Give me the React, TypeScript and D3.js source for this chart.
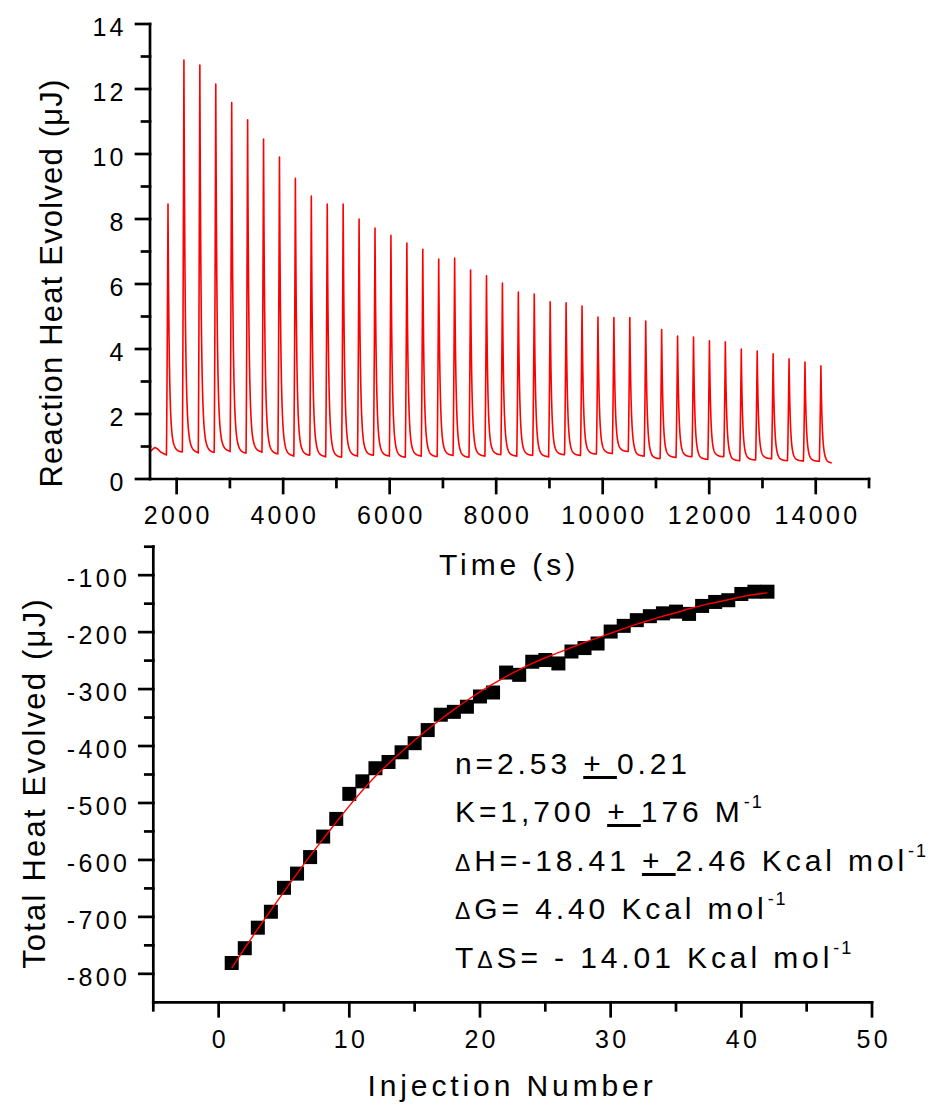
import React from 'react';
import * as d3 from 'd3';

// ---------- DATA ----------
// Raw thermogram (top panel)
const injectionTimes = [
  1838, 2137, 2436, 2735, 3034, 3333, 3632, 3931, 4230, 4529, 4828, 5127, 5426, 5725,
  6024, 6323, 6622, 6921, 7220, 7519, 7818, 8117, 8416, 8715, 9014, 9313, 9612, 9911,
  10210, 10509, 10808, 11107, 11406, 11705, 12004, 12303, 12602, 12901, 13200, 13499,
  13798, 14097,
];
const peakHeights = [
  8.46, 12.89, 12.74, 12.15, 11.58, 11.05, 10.46, 9.91, 9.25, 8.71, 8.46, 8.46, 8.0, 7.72,
  7.5, 7.26, 7.07, 6.77, 6.8, 6.43, 6.25, 6.03, 5.75, 5.69, 5.45, 5.42, 5.32, 4.98,
  4.97, 4.97, 4.86, 4.6, 4.4, 4.37, 4.25, 4.22, 4.0, 3.94, 3.85, 3.7, 3.6, 3.48,
];
const baselineAfter = [
  0.82, 0.8, 0.8, 0.84, 0.78, 0.82, 0.76, 0.7, 0.72, 0.68, 0.66, 0.7, 0.72, 0.7,
  0.66, 0.7, 0.68, 0.72, 0.66, 0.7, 0.74, 0.7, 0.72, 0.68, 0.74, 0.72, 0.76, 0.78,
  0.84, 0.7, 0.62, 0.66, 0.68, 0.6, 0.68, 0.56, 0.58, 0.62, 0.56, 0.55, 0.54, 0.48,
];
const preBaseline: [number, number][] = [
  [1500, 0.84], [1540, 0.9], [1590, 0.97], [1640, 0.93], [1700, 0.83], [1780, 0.76], [1808, 0.74],
];
const traceEnd = 14300;

// Integrated heats (bottom panel)
const injectionNumbers = [
  1, 2, 3, 4, 5, 6, 7, 8, 9, 10, 11, 12, 13, 14, 15, 16, 17, 18, 19, 20, 21,
  22, 23, 24, 25, 26, 27, 28, 29, 30, 31, 32, 33, 34, 35, 36, 37, 38, 39, 40, 41, 42,
];
const totalHeat = [
  -781, -755, -719, -691, -649, -624, -595, -559, -528, -484, -462, -439, -428, -411,
  -395, -372, -345, -340, -331, -313, -306, -271, -275, -252, -249, -255, -234, -228,
  -220, -199, -189, -179, -172, -167, -164, -168, -154, -147, -144, -133, -129, -129,
];
const fitHeat = [
  -790, -755, -721, -688, -656, -624, -593, -563, -534, -505, -478, -453, -431, -410,
  -390, -371, -353, -336, -320, -305, -291, -278, -266, -255, -245, -236, -227, -218,
  -210, -202, -194, -186, -179, -172, -166, -159, -153, -148, -143, -138, -134, -131,
];

const topXMajor = [2000, 4000, 6000, 8000, 10000, 12000, 14000];
const topXMinor = [3000, 5000, 7000, 9000, 11000, 13000, 15000];
const topYMajor = [0, 2, 4, 6, 8, 10, 12, 14];
const topYMinor = [1, 3, 5, 7, 9, 11, 13];
const botXMajor = [0, 10, 20, 30, 40, 50];
const botXMinor = [-5, 5, 15, 25, 35, 45];
const botYMajor = [-800, -700, -600, -500, -400, -300, -200, -100];
const botYMinor = [-750, -650, -550, -450, -350, -250, -150, -50];

// ---------- LAYOUT ----------
const FONT = 'Liberation Sans, Arial, Helvetica, sans-serif';
const AXW = 2.7;
const MAJ = 14;
const MIN = 8;
const TICK_FS = 25;
const TICK_LS = 3.3;
const TITLE_FS = 30;
const TITLE_LS = 3.9;

const xTop = d3.scaleLinear().domain([1500, 15000]).range([150, 869]);
const yTop = d3.scaleLinear().domain([0, 14]).range([479, 24]);
const xBot = d3.scaleLinear().domain([-5, 50]).range([153.3, 872]);
const yBot = d3.scaleLinear().domain([-850, -50]).range([1002.3, 546.7]);

const RISE = 30;
const starts = injectionTimes.map((t) => t - RISE);
function heatAt(t: number): number {
  if (t < starts[0]) {
    const i = Math.max(0, d3.bisectRight(preBaseline.map((p) => p[0]), t) - 1);
    const a = preBaseline[i];
    const b = preBaseline[Math.min(i + 1, preBaseline.length - 1)];
    if (a === b) return a[1];
    return a[1] + ((b[1] - a[1]) * (t - a[0])) / (b[0] - a[0]);
  }
  const i = d3.bisectRight(starts, t) - 1;
  const bStart = i === 0 ? preBaseline[preBaseline.length - 1][1] : baselineAfter[i - 1];
  const bEnd = baselineAfter[i];
  const d = t - starts[i];
  const base = bStart + (bEnd - bStart) * Math.min(1, d / 150);
  const basePeak = bStart + (bEnd - bStart) * (RISE / 150);
  const amp = peakHeights[i] - basePeak;
  if (d < RISE) return base + amp * Math.pow(d / RISE, 1.3);
  const s = d - RISE;
  return base + amp * (0.8 * Math.exp(-s / 22) + 0.2 * Math.exp(-s / 55));
}

const traceTimes = Array.from(new Set([...d3.range(1500, traceEnd + 1, 2), ...injectionTimes])).sort(
  (a, b) => a - b
);
const traceData = traceTimes.map((t) => [t, heatAt(t)] as [number, number]);

export default function App() {
  const tracePath = d3
    .line<[number, number]>()
    .x((d) => xTop(d[0]))
    .y((d) => yTop(d[1]))(traceData) as string;

  const fitPath = d3
    .line<number>()
    .curve(d3.curveMonotoneX)
    .x((_, i) => xBot(injectionNumbers[i]))
    .y((d) => yBot(d))(fitHeat) as string;

  const sq = 14;
  const ax = (x1: number, y1: number, x2: number, y2: number, k: string) => (
    <line key={k} x1={x1} y1={y1} x2={x2} y2={y2} stroke="#000" strokeWidth={AXW} strokeLinecap="square" />
  );

  const tickText = { fontFamily: FONT, fontSize: TICK_FS, letterSpacing: TICK_LS, fill: '#000' } as const;
  const titleText = { fontFamily: FONT, fontSize: TITLE_FS, letterSpacing: TITLE_LS, fill: '#000' } as const;
  const annText = { fontFamily: FONT, fontSize: 30, letterSpacing: 3.9, fill: '#000' } as const;
  const sup = (k: string) => (
    <tspan key={k} fontSize={18} dy={-14} letterSpacing={2}>-1</tspan>
  );
  const delta = <tspan fontSize={23}>Δ</tspan>;

  const topX0 = xTop.range()[0];
  const topY0 = yTop.range()[0];
  const botX0 = xBot.range()[0];
  const botY0 = yBot.range()[0];

  return (
    <svg width={936} height={1106} style={{ position: 'absolute', left: 0, top: 0, background: '#fff' }}>
      <rect x={0} y={0} width={936} height={1106} fill="#fff" />
      {/* ---------- TOP PANEL ---------- */}
      <path d={tracePath} fill="none" stroke="#ff0000" strokeWidth={1.6} strokeLinejoin="round" />
      {ax(topX0, yTop.range()[1], topX0, topY0, 'tya')}
      {ax(topX0, topY0, xTop.range()[1], topY0, 'txa')}
      {topYMajor.map((v) => ax(topX0 - MAJ, yTop(v), topX0, yTop(v), 'tyM' + v))}
      {topYMinor.map((v) => ax(topX0 - MIN, yTop(v), topX0, yTop(v), 'tym' + v))}
      {topXMajor.map((v) => ax(xTop(v), topY0, xTop(v), topY0 + MAJ, 'txM' + v))}
      {topXMinor.map((v) => ax(xTop(v), topY0, xTop(v), topY0 + MIN, 'txm' + v))}
      {topYMajor.map((v) => (
        <text key={'tyl' + v} x={topX0 - 26.5 + TICK_LS} y={yTop(v) + 12} textAnchor="end" style={tickText}>
          {v}
        </text>
      ))}
      {topXMajor.map((v) => (
        <text key={'txl' + v} x={xTop(v) + TICK_LS / 2} y={524} textAnchor="middle" style={tickText}>
          {v}
        </text>
      ))}
      <text x={509} y={575} textAnchor="middle" style={titleText}>Time (s)</text>
      <text
        transform={`translate(62,283) rotate(-90)`}
        textAnchor="middle"
        style={{ ...titleText, fontSize: 31, letterSpacing: 1.2 }}
      >
        Reaction Heat Evolved (μJ)
      </text>

      {/* ---------- BOTTOM PANEL ---------- */}
      {totalHeat.map((v, i) => (
        <rect
          key={'sq' + i}
          x={xBot(injectionNumbers[i]) - sq / 2}
          y={yBot(v) - sq / 2}
          width={sq}
          height={sq}
          fill="#000"
        />
      ))}
      <path d={fitPath} fill="none" stroke="#ff0000" strokeWidth={1.4} />
      {ax(botX0, yBot.range()[1], botX0, botY0, 'bya')}
      {ax(botX0, botY0, xBot.range()[1], botY0, 'bxa')}
      {botYMajor.map((v) => ax(botX0 - MAJ, yBot(v), botX0, yBot(v), 'byM' + v))}
      {botYMinor.map((v) => ax(botX0 - MIN, yBot(v), botX0, yBot(v), 'bym' + v))}
      {botXMajor.map((v) => ax(xBot(v), botY0, xBot(v), botY0 + MAJ, 'bxM' + v))}
      {botXMinor.map((v) => ax(xBot(v), botY0, xBot(v), botY0 + MIN, 'bxm' + v))}
      {botYMajor.map((v) => (
        <text key={'byl' + v} x={botX0 - 26.5 + TICK_LS} y={yBot(v) + 12} textAnchor="end" style={tickText}>
          {v}
        </text>
      ))}
      {botXMajor.map((v) => (
        <text key={'bxl' + v} x={xBot(v) + TICK_LS / 2} y={1048} textAnchor="middle" style={tickText}>
          {v}
        </text>
      ))}
      <text x={512} y={1096} textAnchor="middle" style={titleText}>Injection Number</text>
      <text
        transform={`translate(45,783) rotate(-90)`}
        textAnchor="middle"
        style={{ ...titleText, fontSize: 31, letterSpacing: 2.2 }}
      >
        Total Heat Evolved (μJ)
      </text>

      {/* annotation */}
      <text x={455} y={774} style={annText}>
        n=2.53 <tspan textDecoration="underline">+ </tspan>0.21
      </text>
      <text x={455} y={822} style={annText}>
        K=1,700 <tspan textDecoration="underline">+ </tspan>176 M{sup('k')}
      </text>
      <text x={455} y={871} style={annText}>
        {delta}H=-18.41 <tspan textDecoration="underline">+ </tspan>2.46 Kcal mol{sup('h')}
      </text>
      <text x={455} y={919} style={annText}>
        {delta}G= 4.40 Kcal mol{sup('g')}
      </text>
      <text x={455} y={968} style={annText}>
        T{delta}S= - 14.01 Kcal mol{sup('s')}
      </text>
    </svg>
  );
}
